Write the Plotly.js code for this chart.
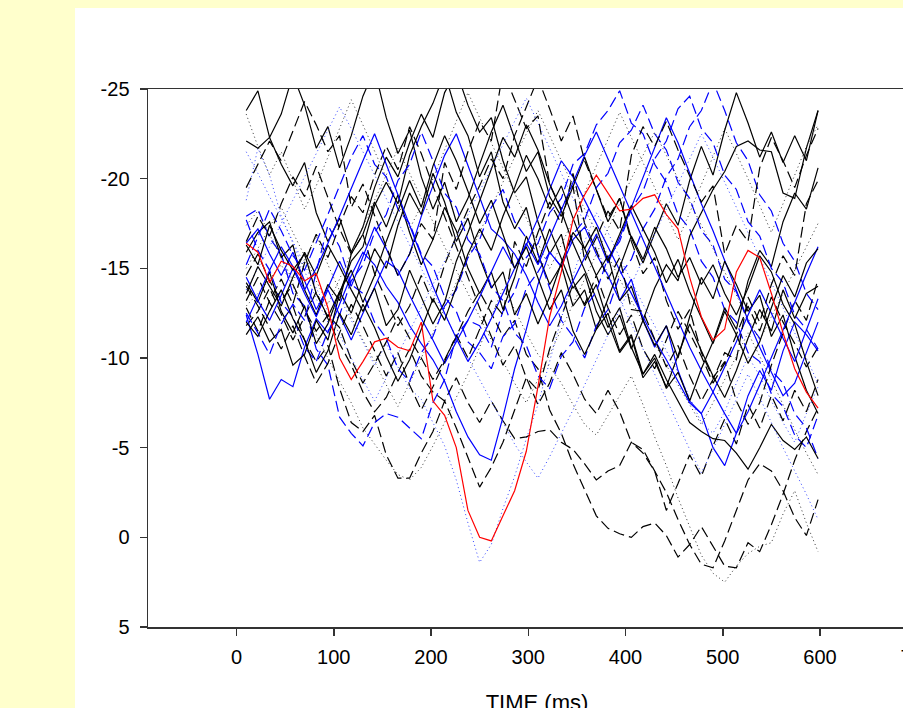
<!DOCTYPE html>
<html>
<head>
<meta charset="utf-8">
<script src="https://cdn.plot.ly/plotly-3.0.1.min.js"></script>
<style>
  html, body { margin:0; padding:0; width:903px; height:708px; overflow:hidden; background:#ffffcc; }
  #chart { position:absolute; left:75px; top:8px; width:871px; height:750px; background:#ffffff; }
</style>
</head>
<body>
<div id="chart"></div>
<script>
// sample times (ms)
const times = [10,22,34,46,58,70,82,94,106,118,130,142,154,166,178,190,202,214,226,238,250,262,274,286,298,310,322,334,346,358,370,382,394,406,418,430,442,454,466,478,490,502,514,526,538,550,562,574,586,598];

// black solid series
const blackSolid1 = [-23.8,-24.9,-22.3,-23.6,-25.8,-24.1,-21.7,-22.9,-20.6,-22.4,-24.6,-26.1,-23.4,-21.4,-22.7,-20.1,-18.3,-19.8,-17.6,-18.9,-20.8,-22.6,-24.1,-22.3,-20.4,-21.5,-19.0,-17.9,-19.6,-21.2,-19.4,-17.6,-18.9,-16.7,-15.3,-16.9,-18.6,-17.4,-19.9,-21.8,-20.2,-22.7,-24.8,-23.1,-21.2,-22.6,-20.9,-22.4,-21.0,-23.8];
const blackSolid2 = [-22.1,-21.7,-22.3,-20.8,-19.6,-20.9,-18.1,-16.5,-17.8,-15.9,-17.3,-19.5,-21.2,-20.1,-22.0,-23.6,-22.3,-24.8,-26.0,-24.1,-22.6,-23.4,-21.0,-19.2,-20.1,-17.6,-15.8,-16.9,-14.3,-12.9,-14.1,-12.0,-10.3,-11.2,-8.9,-9.8,-8.4,-10.2,-11.9,-10.4,-9.0,-7.8,-9.3,-11.1,-12.7,-11.5,-13.8,-12.2,-13.6,-14.0];
const blackSolid3 = [-15.9,-17.0,-17.6,-15.6,-16.3,-13.8,-12.4,-14.1,-13.2,-15.8,-16.9,-18.7,-17.3,-19.1,-17.0,-15.2,-16.6,-18.4,-17.1,-15.0,-13.6,-14.8,-12.7,-14.5,-16.8,-15.3,-17.2,-15.6,-13.9,-14.7,-12.6,-11.3,-12.4,-10.5,-12.1,-13.9,-15.2,-14.3,-16.8,-18.1,-19.4,-20.4,-21.8,-22.1,-21.6,-21.5,-19.2,-18.9,-21.7,-23.8];
const blackSolid4 = [-11.3,-12.3,-10.9,-11.6,-9.6,-10.2,-12.1,-11.0,-13.6,-15.4,-16.2,-18.5,-19.8,-18.6,-21.3,-22.9,-24.2,-25.9,-23.7,-22.4,-20.1,-21.5,-18.7,-17.2,-18.4,-15.8,-14.1,-15.2,-12.9,-13.8,-11.6,-12.5,-10.4,-11.3,-9.1,-10.0,-8.3,-9.2,-7.6,-9.4,-10.9,-12.8,-11.6,-14.3,-16.0,-15.1,-17.6,-19.2,-18.3,-20.6];
const blackSolid5 = [-14.2,-13.1,-14.8,-12.6,-11.4,-12.9,-10.8,-11.9,-13.7,-12.5,-14.3,-16.1,-15.0,-17.4,-19.2,-18.0,-20.3,-18.7,-16.5,-17.8,-15.6,-13.9,-14.8,-12.4,-13.6,-11.9,-13.4,-15.3,-17.0,-16.1,-14.6,-15.7,-13.2,-14.0,-12.1,-10.7,-11.8,-10.0,-12.3,-14.5,-13.3,-15.4,-14.1,-12.6,-13.5,-11.2,-12.4,-10.1,-8.2,-6.9];
const blackSolid6 = [-13.6,-15.1,-14.0,-12.9,-14.5,-15.9,-14.6,-16.3,-15.1,-13.8,-12.6,-13.9,-11.8,-12.7,-14.9,-13.4,-11.9,-13.1,-15.4,-17.0,-18.8,-20.6,-22.3,-21.2,-23.0,-21.6,-19.7,-18.2,-16.4,-14.9,-13.3,-11.7,-12.8,-10.6,-9.1,-10.2,-8.8,-7.6,-6.4,-5.9,-5.5,-5.4,-4.7,-3.8,-5.0,-6.3,-5.4,-4.9,-5.6,-4.4];
const blackSolid7 = [-12.0,-11.2,-12.6,-13.8,-12.2,-11.0,-9.2,-10.4,-12.5,-11.3,-13.0,-11.7,-10.1,-8.7,-9.9,-11.6,-13.3,-12.1,-14.0,-15.8,-17.2,-16.0,-17.9,-19.5,-21.3,-20.0,-18.3,-19.6,-17.8,-16.1,-17.3,-15.4,-16.9,-18.5,-17.2,-15.9,-14.2,-15.5,-13.7,-12.2,-10.8,-12.6,-11.3,-9.7,-10.9,-12.8,-14.6,-13.4,-15.3,-16.1];
const blackSolid8 = [-16.3,-15.2,-17.4,-16.0,-14.9,-15.8,-13.6,-12.3,-13.7,-14.9,-13.1,-14.6,-16.5,-18.2,-19.9,-18.4,-20.7,-22.4,-21.0,-19.3,-17.5,-18.8,-16.9,-15.0,-16.2,-14.4,-12.7,-13.8,-11.5,-10.2,-11.6,-13.3,-15.0,-16.8,-15.5,-17.3,-16.1,-14.5,-15.6,-14.1,-15.2,-13.6,-12.4,-13.9,-15.7,-14.8,-13.0,-11.9,-9.8,-7.9];

// black dashed series
const blackDash1 = [-13.2,-14.5,-13.1,-12.0,-12.9,-11.0,-9.8,-10.7,-8.3,-6.4,-5.9,-6.8,-4.6,-3.3,-3.3,-4.7,-5.9,-7.6,-6.1,-4.4,-2.8,-3.9,-5.3,-7.1,-8.9,-8.2,-10.5,-12.3,-14.1,-13.0,-14.6,-12.8,-11.3,-12.4,-10.5,-9.4,-11.0,-12.6,-11.4,-10.1,-8.6,-9.7,-11.3,-12.9,-11.5,-13.4,-12.0,-10.8,-9.5,-10.6];
const blackDash2 = [-11.8,-12.6,-13.9,-12.4,-11.0,-12.3,-13.7,-12.2,-10.8,-9.6,-8.1,-7.0,-7.8,-9.2,-10.5,-9.0,-8.1,-7.6,-8.9,-7.5,-6.4,-7.6,-6.5,-5.5,-5.6,-5.9,-6.0,-5.3,-4.9,-4.1,-3.2,-3.7,-4.0,-5.3,-4.7,-3.7,-1.5,-3.0,-4.6,-3.4,-5.1,-6.6,-5.2,-7.4,-6.1,-7.9,-6.5,-8.2,-7.0,-8.8];
const blackDash3 = [-14.6,-15.8,-14.3,-13.2,-14.1,-12.7,-11.5,-12.4,-11.7,-9.9,-8.6,-9.7,-10.9,-12.3,-11.1,-10.0,-8.8,-9.9,-11.2,-12.6,-13.7,-12.5,-11.2,-12.1,-10.2,-9.4,-7.1,-5.8,-4.1,-2.6,-1.2,-0.5,-0.2,0.0,-0.6,-0.8,-0.1,1.1,0.4,-0.6,0.5,1.6,1.7,0.3,0.8,-0.7,-2.4,-4.3,-5.9,-7.2];
const blackDash4 = [-16.5,-17.9,-16.8,-18.6,-20.1,-19.0,-20.7,-18.9,-17.2,-15.8,-16.9,-14.7,-13.2,-11.8,-12.9,-14.6,-13.1,-15.2,-16.8,-18.3,-19.6,-21.1,-20.0,-22.4,-24.0,-25.6,-23.9,-22.1,-23.5,-21.0,-19.4,-17.8,-18.9,-16.5,-14.7,-15.6,-13.2,-11.6,-12.7,-10.3,-8.9,-9.8,-7.6,-6.3,-7.5,-9.6,-11.4,-13.2,-12.1,-14.4];
const blackDash5 = [-12.8,-11.5,-13.2,-14.4,-13.0,-15.3,-16.9,-15.6,-17.4,-19.0,-18.1,-20.2,-21.8,-20.5,-22.9,-21.4,-19.6,-17.9,-16.1,-14.4,-12.8,-11.2,-9.6,-10.7,-8.9,-7.4,-8.6,-10.3,-9.1,-7.7,-6.9,-8.2,-7.0,-5.3,-4.9,-3.7,-2.5,-1.0,0.4,1.5,1.7,0.2,-1.5,-3.2,-4.1,-3.7,-2.6,-1.1,-0.1,-2.1];
const blackDash6 = [-19.5,-20.8,-22.1,-21.0,-22.6,-24.3,-23.0,-21.5,-22.4,-18.4,-19.7,-17.9,-16.2,-14.6,-15.8,-17.5,-16.6,-20.9,-19.4,-21.5,-23.2,-22.1,-26.0,-24.4,-22.8,-23.5,-19.7,-18.3,-19.6,-15.4,-16.7,-18.2,-17.1,-21.3,-22.9,-21.8,-23.2,-21.6,-20.1,-18.7,-19.6,-15.8,-17.4,-16.5,-20.6,-22.3,-21.0,-19.5,-21.3,-22.8];
const blackDash7 = [-14.0,-12.9,-11.7,-10.5,-11.8,-10.1,-8.6,-9.7,-11.4,-13.0,-11.8,-10.4,-9.0,-10.3,-8.5,-7.1,-8.4,-9.8,-11.3,-10.0,-11.6,-13.2,-12.4,-16.5,-15.1,-17.0,-18.7,-17.5,-20.3,-17.5,-16.0,-14.4,-15.6,-12.7,-12.6,-11.1,-9.5,-10.7,-9.0,-7.6,-8.8,-10.3,-9.9,-13.4,-12.0,-14.1,-15.7,-14.6,-18.6,-19.9];

// black dotted series
const blackDot1 = [-12.9,-13.6,-14.4,-15.2,-14.0,-12.6,-11.3,-10.0,-8.7,-7.5,-6.1,-5.2,-4.3,-3.5,-3.2,-3.9,-5.1,-6.4,-7.8,-9.1,-10.6,-12.3,-13.9,-12.7,-11.4,-10.2,-9.5,-8.6,-7.4,-6.3,-5.7,-6.8,-7.9,-9.0,-7.4,-5.6,-4.0,-2.2,-0.6,1.0,2.0,2.5,1.6,0.9,0.5,0.3,-1.3,-2.6,-0.8,0.8];
const blackDot2 = [-23.6,-21.8,-20.2,-21.5,-19.9,-18.3,-19.6,-21.2,-22.9,-24.4,-23.0,-21.5,-20.0,-18.6,-17.2,-18.5,-20.0,-21.6,-23.2,-24.8,-23.4,-22.0,-20.6,-19.2,-17.8,-16.4,-15.0,-16.3,-17.7,-19.2,-20.7,-22.2,-23.7,-22.3,-20.9,-19.5,-18.0,-16.6,-18.1,-19.7,-21.3,-22.8,-21.4,-20.0,-18.5,-17.0,-18.6,-20.2,-21.8,-23.0];
const blackDot3 = [-17.4,-18.2,-16.9,-15.6,-14.3,-15.5,-16.8,-15.2,-13.7,-12.3,-11.0,-9.8,-8.5,-7.3,-8.6,-10.0,-11.4,-12.8,-14.2,-15.6,-17.0,-18.4,-19.8,-21.2,-22.5,-23.8,-22.4,-21.0,-19.6,-18.3,-17.0,-15.7,-14.4,-13.2,-12.0,-10.8,-9.6,-8.5,-7.4,-6.3,-7.5,-8.8,-10.1,-11.4,-10.1,-8.8,-7.4,-6.0,-4.7,-3.5];
const blackDot4 = [-15.0,-16.1,-17.3,-18.4,-17.0,-15.7,-14.3,-13.0,-14.4,-15.9,-17.3,-18.8,-20.2,-21.7,-20.3,-18.9,-17.6,-16.2,-14.9,-13.6,-12.3,-11.0,-9.8,-8.6,-7.5,-8.8,-10.2,-11.6,-13.0,-14.4,-15.8,-17.2,-18.6,-20.0,-21.3,-22.6,-21.3,-20.0,-18.7,-17.4,-16.1,-14.8,-13.5,-12.2,-11.0,-12.3,-13.6,-14.9,-16.2,-17.5];

// blue solid series
const blueSolid1 = [-12.4,-10.2,-7.7,-8.8,-8.4,-10.6,-12.2,-11.4,-13.0,-14.6,-15.9,-15.2,-14.0,-13.1,-11.8,-10.8,-9.9,-8.7,-7.0,-5.6,-4.6,-4.3,-6.7,-9.4,-11.6,-14.1,-15.9,-15.1,-16.6,-17.3,-15.8,-14.6,-13.2,-14.4,-12.1,-10.6,-11.8,-9.3,-7.6,-6.9,-5.0,-4.0,-5.8,-7.9,-9.3,-8.2,-10.4,-12.0,-11.3,-10.4];
const blueSolid2 = [-16.4,-17.2,-15.8,-14.6,-15.9,-14.3,-12.7,-13.9,-15.4,-14.0,-15.6,-17.3,-16.1,-14.6,-15.8,-17.9,-19.6,-21.3,-22.5,-20.7,-18.9,-17.2,-16.6,-15.8,-14.6,-13.1,-11.8,-12.9,-14.3,-15.6,-16.9,-15.3,-16.7,-18.4,-20.1,-21.8,-23.4,-22.0,-20.3,-18.6,-17.1,-15.4,-13.8,-12.1,-10.6,-9.2,-7.9,-8.6,-10.3,-12.0];
const blueSolid3 = [-14.5,-13.2,-12.1,-13.5,-15.0,-13.6,-12.3,-13.8,-12.4,-11.0,-12.5,-14.0,-15.4,-14.9,-13.5,-12.2,-11.0,-9.7,-10.9,-12.1,-13.4,-14.8,-16.2,-15.0,-16.3,-17.8,-19.4,-21.0,-20.1,-18.8,-17.5,-16.2,-14.9,-13.6,-12.3,-11.0,-9.9,-8.7,-7.5,-6.9,-8.1,-9.5,-10.9,-12.4,-13.8,-12.5,-11.1,-9.8,-11.5,-13.3];
const blueSolid4 = [-12.0,-13.4,-14.9,-16.2,-15.1,-13.8,-15.0,-16.4,-17.9,-19.5,-21.0,-22.5,-20.8,-19.0,-17.3,-15.6,-14.0,-12.5,-11.1,-9.8,-10.9,-12.2,-13.6,-15.0,-16.4,-15.2,-16.7,-18.2,-19.8,-21.3,-22.6,-21.1,-19.6,-18.0,-16.5,-15.0,-13.5,-12.0,-10.6,-9.3,-8.1,-6.9,-5.8,-7.0,-8.5,-10.0,-11.6,-13.1,-14.7,-16.2];

// blue dashed series
const blueDash1 = [-17.9,-18.3,-16.7,-15.8,-13.6,-12.9,-10.5,-9.6,-6.7,-5.8,-5.1,-6.4,-6.9,-6.7,-6.1,-5.5,-7.5,-8.8,-11.2,-12.1,-11.8,-10.6,-12.6,-13.7,-15.6,-16.4,-18.1,-18.9,-20.8,-21.4,-23.0,-23.8,-24.9,-23.1,-22.5,-20.8,-19.8,-18.0,-17.2,-15.4,-14.5,-12.7,-12.0,-10.3,-9.8,-8.0,-7.3,-5.7,-5.0,-6.8];
const blueDash2 = [-15.2,-16.8,-18.3,-17.1,-15.7,-14.9,-16.4,-18.0,-19.6,-21.2,-22.4,-20.8,-20.1,-18.3,-17.5,-15.8,-15.1,-13.4,-12.6,-10.9,-10.3,-9.4,-11.2,-11.9,-13.9,-14.8,-15.9,-15.1,-16.9,-17.7,-19.5,-20.3,-22.0,-22.7,-24.1,-22.5,-21.6,-19.8,-18.9,-17.1,-16.3,-14.4,-13.7,-12.0,-11.1,-9.3,-8.6,-6.9,-6.1,-4.4];
const blueDash3 = [-12.5,-11.4,-10.2,-11.9,-13.0,-12.1,-14.8,-17.4,-16.2,-14.1,-13.6,-12.0,-11.1,-9.4,-8.7,-10.3,-11.2,-12.9,-13.8,-15.6,-16.6,-18.4,-19.4,-17.6,-16.7,-15.8,-13.9,-12.1,-11.2,-10.0,-11.8,-12.7,-14.6,-15.5,-17.2,-18.3,-20.1,-21.1,-22.9,-23.8,-25.4,-23.8,-22.0,-21.0,-19.1,-18.2,-16.4,-15.4,-13.6,-12.7];
const blueDash4 = [-17.7,-16.0,-14.9,-13.1,-12.3,-10.6,-9.8,-11.5,-12.4,-14.3,-15.2,-17.0,-18.0,-19.9,-20.8,-22.6,-21.0,-19.2,-18.4,-16.6,-15.8,-14.0,-13.2,-11.4,-10.7,-9.0,-8.3,-10.1,-10.9,-12.8,-13.7,-15.6,-16.5,-18.3,-19.3,-21.1,-22.1,-23.9,-24.6,-22.8,-22.0,-20.2,-19.4,-17.6,-16.8,-15.0,-14.2,-12.4,-11.6,-10.5];

// blue dotted series
const blueDot1 = [-18.8,-21.7,-20.2,-17.9,-16.4,-14.8,-13.3,-12.0,-13.4,-12.1,-10.9,-9.6,-10.8,-9.5,-8.3,-7.7,-6.4,-5.1,-3.2,-0.8,1.4,0.4,-1.6,-3.4,-5.5,-7.4,-9.8,-12.2,-14.6,-16.5,-18.1,-17.0,-15.6,-14.3,-13.0,-11.8,-10.4,-9.2,-7.8,-6.4,-5.8,-7.0,-8.6,-10.1,-9.0,-7.6,-6.4,-5.3,-6.9,-8.4];
const blueDot2 = [-13.8,-15.0,-16.2,-17.5,-18.8,-20.1,-21.4,-22.7,-24.0,-22.8,-21.5,-20.2,-18.9,-17.6,-16.3,-15.0,-13.7,-12.4,-11.2,-10.0,-8.8,-7.6,-6.4,-5.2,-4.2,-3.3,-4.5,-5.8,-7.1,-8.5,-9.9,-11.3,-12.7,-14.1,-15.5,-16.9,-18.3,-19.7,-21.1,-22.5,-21.2,-19.8,-18.4,-17.0,-15.6,-14.2,-12.8,-11.4,-10.0,-8.6];
const blueDot3 = [-21.5,-20.3,-19.0,-17.8,-16.5,-15.2,-13.9,-12.6,-11.3,-10.0,-8.8,-7.6,-8.9,-10.2,-11.5,-12.8,-14.1,-15.4,-16.7,-18.0,-19.3,-20.6,-21.9,-23.2,-24.5,-23.1,-21.7,-20.3,-18.9,-17.5,-16.1,-14.7,-13.3,-11.9,-10.5,-9.1,-7.7,-6.3,-4.9,-3.6,-4.9,-6.3,-7.7,-9.1,-7.8,-6.4,-5.0,-3.7,-2.4,-1.0];

// highlighted series (red)
const redSeries = [-16.4,-15.9,-14.2,-15.4,-15.1,-14.3,-14.7,-12.8,-10.0,-8.8,-9.8,-10.9,-11.1,-10.6,-10.4,-12.0,-7.6,-6.8,-5.0,-1.5,0.0,0.2,-1.2,-2.6,-4.8,-8.4,-12.3,-14.8,-17.7,-19.1,-20.2,-19.2,-18.2,-18.3,-18.9,-19.1,-18.0,-17.2,-14.5,-12.3,-11.0,-11.6,-14.8,-16.0,-15.6,-13.6,-11.4,-9.4,-8.1,-7.2];

const xTicks = [0,100,200,300,400,500,600,700];
const yTicks = [-25,-20,-15,-10,-5,0,5];

// styles
const SOLID = 'solid', DASH = '11px,5px', DOT = '1px,3px';
const groups = [
  [blackSolid1,'#000000',SOLID],[blackDash1,'#000000',DASH],[blueDot1,'#3344ff',DOT],
  [blackSolid2,'#000000',SOLID],[blackDash2,'#000000',DASH],[blackDot1,'#333333',DOT],
  [blueSolid1,'#0000ff',SOLID],[blueDash1,'#0000ff',DASH],[blackSolid3,'#000000',SOLID],
  [blackDash3,'#000000',DASH],[blackDot2,'#333333',DOT],[blueSolid2,'#0000ff',SOLID],
  [blueDash2,'#0000ff',DASH],[blackSolid4,'#000000',SOLID],[blackDash4,'#000000',DASH],
  [blueDot2,'#3344ff',DOT],[blackSolid5,'#000000',SOLID],[blackDash5,'#000000',DASH],
  [blackDot3,'#333333',DOT],[blueSolid3,'#0000ff',SOLID],[blueDash3,'#0000ff',DASH],
  [blackSolid6,'#000000',SOLID],[blackDash6,'#000000',DASH],[blackDot4,'#333333',DOT],
  [blueSolid4,'#0000ff',SOLID],[blueDash4,'#0000ff',DASH],[blackSolid7,'#000000',SOLID],
  [blackDash7,'#000000',DASH],[blueDot3,'#3344ff',DOT],[blackSolid8,'#000000',SOLID],
  [redSeries,'#ff0000',SOLID]
];

const traces = groups.map(g => ({
  x: times, y: g[0], type: 'scatter', mode: 'lines',
  line: { color: g[1], dash: g[2], width: g[2] === DOT ? 1 : 1.2 },
  hoverinfo: 'skip', showlegend: false
}));

const axisFont = { family: 'Liberation Sans, Arial, sans-serif', size: 20, color: '#000' };

const layout = {
  width: 871, height: 750,
  paper_bgcolor: '#ffffff', plot_bgcolor: '#ffffff',
  margin: { l: 73, r: 20, t: 81, b: 131 },
  showlegend: false,
  xaxis: {
    range: [-91, 709], tickvals: xTicks, ticktext: xTicks.map(String),
    ticks: 'outside', ticklen: 7, tickwidth: 1.5, tickcolor: '#333',
    showline: true, linecolor: '#333', linewidth: 1.5, mirror: true,
    showgrid: false, zeroline: false, tickfont: axisFont, ticklabelstandoff: 4,
    title: { text: 'TIME (ms)', font: { family: 'Liberation Sans, Arial, sans-serif', size: 22, color: '#000' }, standoff: 28 }
  },
  yaxis: {
    range: [5, -25], tickvals: yTicks, ticktext: yTicks.map(String),
    ticks: 'outside', ticklen: 7, tickwidth: 1.5, tickcolor: '#333',
    showline: true, linecolor: '#333', linewidth: 1.5,
    showgrid: false, zeroline: false, tickfont: axisFont, ticklabelstandoff: 6
  }
};

Plotly.newPlot('chart', traces, layout, { displayModeBar: false, staticPlot: true });
</script>
</body>
</html>
